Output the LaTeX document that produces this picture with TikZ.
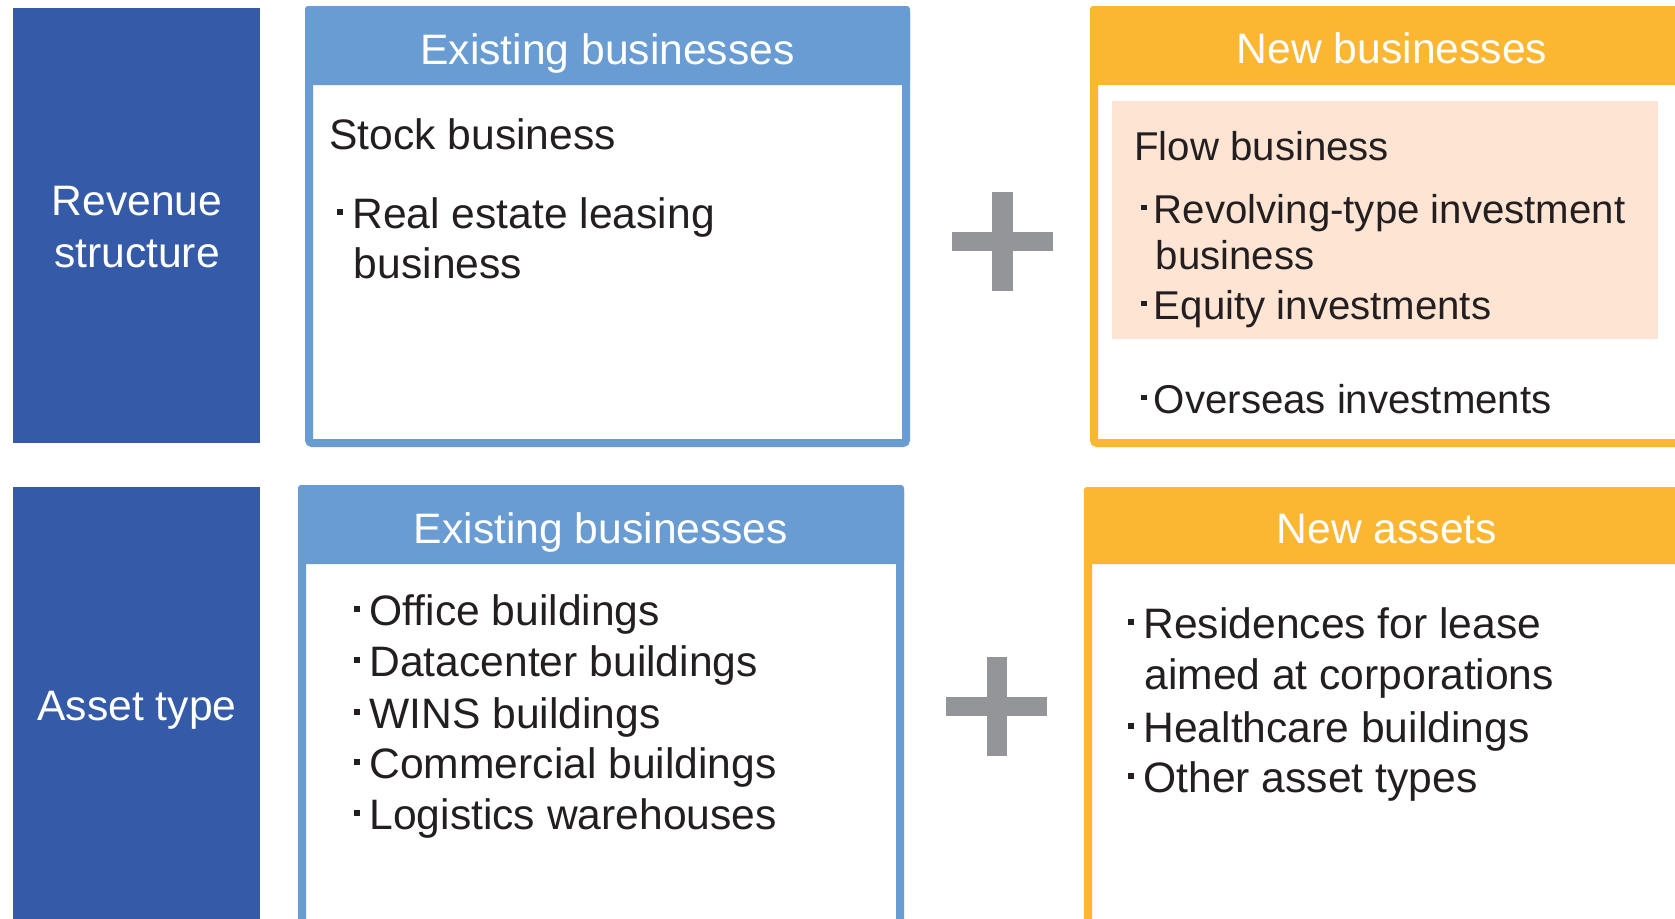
\documentclass[tikz,border=0pt]{standalone}
\usepackage{fontspec}
\setmainfont{Liberation Sans}
\usetikzlibrary{fit}
\definecolor{darkblue}{HTML}{345AA8}
\definecolor{lightblue}{HTML}{699CD2}
\definecolor{orangey}{HTML}{FBB732}
\definecolor{peach}{HTML}{FDE4D3}
\definecolor{plusgray}{HTML}{939598}
\definecolor{txt}{HTML}{231F20}
\newcommand\bul{\rule[6.6pt]{2.75pt}{2.75pt}\hspace{4.8pt}}
\newcommand\bulS{\rule[6.4pt]{2.75pt}{2.75pt}\hspace{3.5pt}}
\tikzset{
  hdr/.style={text=white, anchor=base, inner sep=0},
  body/.style={text=txt, anchor=base west, inner sep=0},
  smallbody/.style={body, font=\fontsize{20.1}{24}\selectfont},
  frame/.style={inner sep=0, line width=4pt, rounded corners=1.5pt},
  panel/.style={inner sep=0, fill=darkblue},
  plusbar/.style={inner sep=0, fill=plusgray},
}
\begin{document}
\begin{tikzpicture}[x=0.5pt, y=-0.5pt, font=\fontsize{21.3}{25}\selectfont]
\useasboundingbox (0,0) rectangle (1675,918);
\clip (0,0) rectangle (1675,918);
\fill[white] (0,0) rectangle (1675,918);

% left panels
\node[panel, fit={(13,8)(260,443)}] (revpanel) {};
\node[hdr] (rev1) at (137,215) {Revenue};
\node[hdr] (rev2) at (137,267) {structure};
\node[panel, fit={(13,487)(260,930)}] (assetpanel) {};
\node[hdr] (asset) at (137,720) {Asset type};

% top existing businesses
\node[inner sep=0, fill=lightblue, rounded corners=1.5pt, fit={(305,6)(910,85)}] (h1) {};
\node[frame, draw=lightblue, fit={(309,10)(906,443)}] (box1) {};
\node[hdr] (h1t) at (607.5,64) {Existing businesses};
\node[body] (stock) at (329,149) {Stock business};
\node[body] (re1) at (337,228) {\bul Real estate leasing};
\node[body] (re2) at (353.5,278) {business};

% top new businesses
\node[inner sep=0, fill=orangey, rounded corners=1.5pt, fit={(1090,6)(1694,85)}] (h2) {};
\node[frame, draw=orangey, fit={(1094,10)(1690,443)}] (box2) {};
\node[hdr] (h2t) at (1392,63) {New businesses};
\node[inner sep=0, fill=peach, fit={(1112,101)(1658,339)}] (flowbox) {};
\node[smallbody] (flow) at (1134,160) {Flow business};
\node[smallbody] (rv1) at (1141,223) {\bulS Revolving-type investment};
\node[smallbody] (rv2) at (1155.5,269) {business};
\node[smallbody] (eq) at (1141,319) {\bulS Equity investments};
\node[smallbody] (ov) at (1141,413) {\bulS Overseas investments};

% top plus
\node[plusbar, fit={(992,192)(1013,291)}] (p1v) {};
\node[plusbar, fit={(952,232)(1053,251)}] (p1h) {};

% bottom existing businesses
\node[inner sep=0, fill=lightblue, rounded corners=1.5pt, fit={(298,485)(904,564)}] (h3) {};
\node[frame, draw=lightblue, fit={(302,489)(900,940)}] (box3) {};
\node[hdr] (h3t) at (601,543) {Existing businesses};
\node[body] (of) at (354,625) {\bul Office buildings};
\node[body] (dc) at (354,676) {\bul Datacenter buildings};
\node[body] (wi) at (354,728) {\bul WINS buildings};
\node[body] (co) at (354,778) {\bul Commercial buildings};
\node[body] (lo) at (354,829) {\bul Logistics warehouses};

% bottom new assets
\node[inner sep=0, fill=orangey, rounded corners=1.5pt, fit={(1084,487)(1690,564)}] (h4) {};
\node[frame, draw=orangey, fit={(1088,491)(1686,940)}] (box4) {};
\node[hdr] (h4t) at (1387,543) {New assets};
\node[body] (rs1) at (1128,638) {\bul Residences for lease};
\node[body] (rs2) at (1144,689) {aimed at corporations};
\node[body] (hc) at (1128,742) {\bul Healthcare buildings};
\node[body] (ot) at (1128,792) {\bul Other asset types};

% bottom plus
\node[plusbar, fit={(986.5,656.5)(1007,756)}] (p2v) {};
\node[plusbar, fit={(946,697)(1047,716)}] (p2h) {};
\end{tikzpicture}
\end{document}
